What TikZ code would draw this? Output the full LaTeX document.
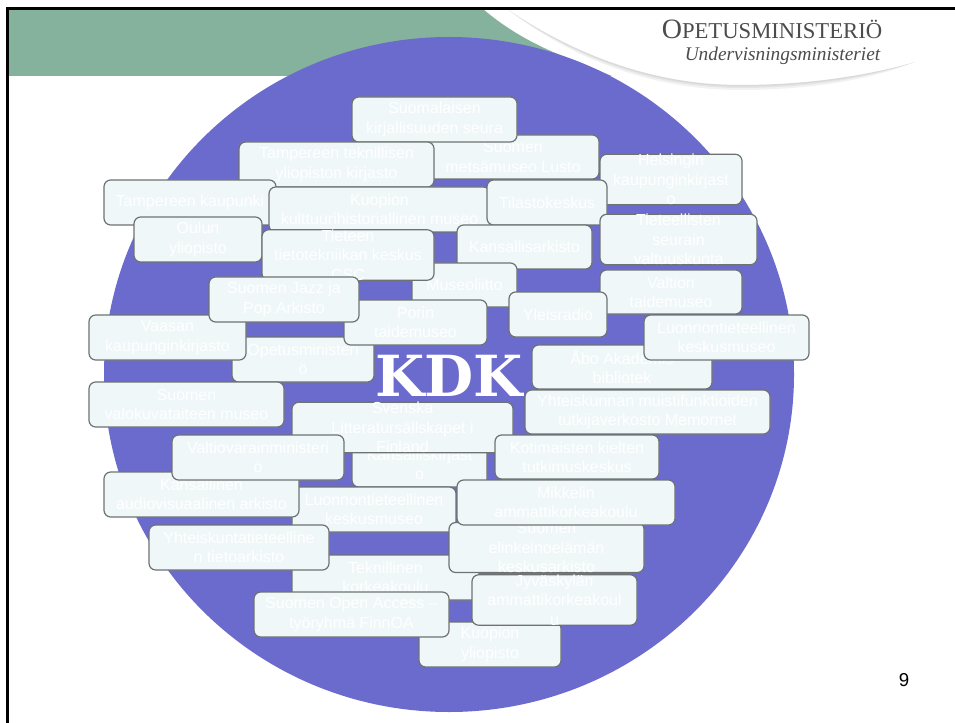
\documentclass[tikz,border=0pt]{standalone}
\usepackage{xcolor}
\usepackage{fontspec}
\setmainfont{Liberation Sans}
\newfontfamily\logofont{Liberation Serif}
\newfontfamily\kdkfont{DejaVu Serif}
\usetikzlibrary{positioning,shapes.geometric}

\definecolor{discblue}{HTML}{6B6BCD}
\definecolor{boxfill}{HTML}{F0F7F9}
\definecolor{boxline}{HTML}{6E7272}
\definecolor{bannergreen}{HTML}{85B29C}

\tikzset{
	org/.style={draw=boxline,line width=0.9pt,fill=boxfill,rounded corners=5pt,text=white,
		align=center,inner sep=0pt,font=\fontsize{12}{14.5}\selectfont},
	swoosh/.style={fill=black,opacity=0.05},
}
% box from its corners in pixels of the slide: name, x0, y0, x1, y1, text
\newcommand{\orgbox}[6]{
	\pgfmathsetmacro{\orgw}{(#4-#2)*0.75}
	\pgfmathsetmacro{\orgh}{(#5-#3)*0.75}
	\node[org,minimum width=\orgw pt,minimum height=\orgh pt] (#1) at ({(#2+#4)/2},{(#3+#5)/2}) {#6};
}

\begin{document}
\begin{tikzpicture}[x=0.75pt,y=-0.75pt]
	\useasboundingbox (0,0) rectangle (955,723);
	\fill[white] (0,0) rectangle (955,723);

	% banner
	\fill[bannergreen] (8,9) -- (483,9) .. controls (505,28) and (530,42) .. (553,52) -- (612,76) -- (8,76) -- cycle;
	\foreach \gap in {1.5,3,5}
		\fill[swoosh] (507,9) .. controls (560,45) and (640,85) .. (740,85) .. controls (810,85) and (870,75) .. (915,62)
			.. controls (870,75+\gap) and (810,85+\gap) .. (740,85+\gap) .. controls (640,85+\gap) and (560,45+\gap) .. (507,9) -- cycle;
	\draw[black,line width=1.9pt] (7.3,723) -- (7.3,8.3) -- (955,8.3);

	% logo
	\node[font=\logofont\fontsize{21}{24}\selectfont,text=black!70] (ministry) at (772,29) {O\fontsize{17}{24}\selectfont PETUSMINISTERIÖ};
	\node[font=\logofont\itshape\fontsize{14.5}{16}\selectfont,text=black!70] (ministeriet) at (782.5,56) {Undervisningsministeriet};

	% disc
	\node[ellipse,fill=discblue,minimum width=517.5pt,minimum height=506.25pt,inner sep=0pt] (disc) at (449,374.5) {};

	\orgbox{metsa}{427}{135}{599}{179}{Suomen\\metsämuseo Lusto}
	\orgbox{suomalaisen}{352}{97}{517}{142}{Suomalaisen\\kirjallisuuden seura}
	\orgbox{tty}{239}{142}{434}{187}{Tampereen teknillisen\\yliopiston kirjasto}
	\orgbox{helsinki}{600}{157}{742}{202}{Helsingin\\kaupunginkirjast\\o}
	\orgbox{tampere}{104}{180}{276}{225}{Tampereen kaupunki}
	\orgbox{kuopiomuseo}{269}{187}{490}{232}{Kuopion\\kulttuurihistoriallinen museo}
	\orgbox{tilasto}{487}{180}{607}{225}{Tilastokeskus}
	\orgbox{oulu}{134}{217}{262}{262}{Oulun\\yliopisto}
	\orgbox{arkisto}{457}{225}{592}{269}{Kansallisarkisto}
	\orgbox{seurain}{600}{217}{757}{262}{Tieteellisten\\seurain\\valtuuskunta}
	\orgbox{museoliitto}{412}{263}{517}{307}{Museoliitto}
	\orgbox{csc}{262}{233}{434}{277}{Tieteen\\tietotekniikan keskus\\CSC}
	\orgbox{valtion}{600}{270}{742}{314}{Valtion\\taidemuseo}
	\orgbox{opm}{232}{337}{374}{382}{Opetusministeri\\ö}
	\orgbox{vaasa}{89}{315}{246}{360}{Vaasan\\kaupunginkirjasto}
	\orgbox{pori}{344}{300}{487}{345}{Porin\\taidemuseo}
	\orgbox{jazz}{209}{277}{359}{322}{Suomen Jazz ja\\Pop Arkisto}
	\orgbox{yle}{509}{292}{607}{337}{Yleisradio}
	\orgbox{abo}{532}{345}{712}{389}{Åbo Akademis\\bibliotek}
	\orgbox{luonnonA}{644}{315}{809}{360}{Luonnontieteellinen\\keskusmuseo}

	\node[font=\kdkfont\bfseries\fontsize{42.5}{44}\selectfont,text=white] (kdk) at (449,376) {KDK};

	\orgbox{valokuva}{89}{382}{284}{427}{Suomen\\valokuvataiteen museo}
	\orgbox{memornet}{525}{390}{770}{434}{Yhteiskunnan muistifunktioiden\\tutkijaverkosto Memornet}
	\orgbox{kirjasto}{352}{442}{487}{487}{Kansalliskirjast\\o}
	\orgbox{svenska}{292}{405}{513}{450}{Svenska\\Litteratursällskapet i\\Finland}
	\orgbox{kotus}{495}{435}{659}{479}{Kotimaisten kielten\\tutkimuskeskus}
	\orgbox{luonnonB}{292}{487}{456}{532}{Luonnontieteellinen\\keskusmuseo}
	\orgbox{audio}{104}{472}{299}{517}{Kansallinen\\audiovisuaalinen arkisto}
	\orgbox{vm}{172}{435}{344}{480}{Valtiovarainministeri\\ö}
	\orgbox{teknillinen}{292}{555}{479}{600}{Teknillinen\\korkeakoulu}
	\orgbox{kuopioyo}{419}{622}{561}{667}{Kuopion\\yliopisto}
	\orgbox{jamk}{472}{578}{637}{622}{Jyväskylän\\ammattikorkeakoul\\u}
	\orgbox{elinkeino}{449}{525}{644}{570}{Suomen\\elinkeinoelämän\\keskusarkisto}
	\orgbox{mikkeli}{457}{480}{675}{525}{Mikkelin\\ammattikorkeakoulu}
	\orgbox{fsd}{149}{525}{329}{570}{Yhteiskuntatieteelline\\n tietoarkisto}
	\orgbox{finnoa}{254}{592}{449}{637}{Suomen Open Access --\\työryhmä FinnOA}

	\node[font=\fontsize{14}{16}\selectfont] (page) at (904,680) {9};
\end{tikzpicture}
\end{document}
